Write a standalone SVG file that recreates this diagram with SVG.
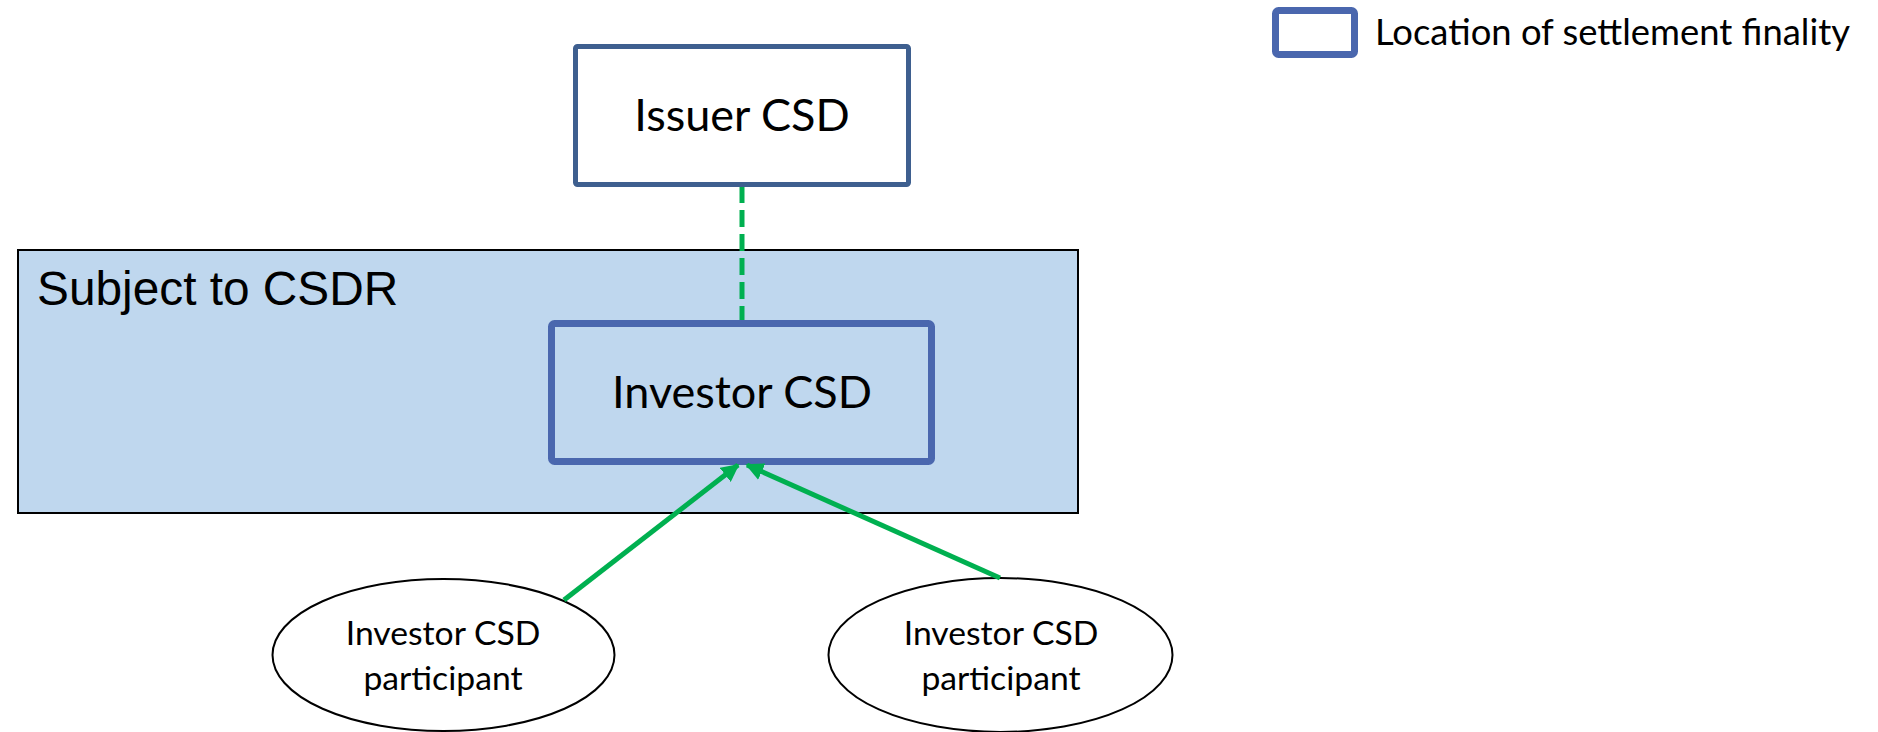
<svg xmlns="http://www.w3.org/2000/svg" width="1878" height="732" viewBox="0 0 1878 732">
  <defs>
    <marker id="arrow" viewBox="0 0 10 10" refX="9" refY="5" markerWidth="3.6" markerHeight="3.6" orient="auto" markerUnits="strokeWidth">
      <path d="M0,0 L10,5 L0,10 Z" fill="#00B050"/>
    </marker>
    <style>
      .label { font-family: Lato, "Open Sans", sans-serif; fill: #000; }
      .big { font-size: 45px; text-anchor: middle; }
      .small { font-size: 33.7px; text-anchor: middle; }
      .flow { stroke: #00B050; stroke-width: 5; fill: none; }
      .oval { fill: #fff; stroke: #000; stroke-width: 2; }
    </style>
  </defs>

  <rect width="1878" height="732" fill="#fff"/>

  <!-- regulated area -->
  <g id="csdr-zone">
    <rect x="18" y="250" width="1060" height="263" fill="#BFD7EE" stroke="#000" stroke-width="2"/>
    <text x="37" y="305" font-family="'Liberation Sans', Arial, sans-serif" font-size="47.8">Subject to CSDR</text>
  </g>

  <g id="issuer-csd">
    <rect x="575.5" y="46.5" width="333" height="138" rx="2" fill="#fff" stroke="#3E5F8F" stroke-width="5"/>
    <text class="label big" x="742" y="131">Issuer CSD</text>
  </g>

  <g id="investor-csd">
    <rect x="551.5" y="323.5" width="380" height="138" rx="3" fill="#BFD7EE" stroke="#4A67AE" stroke-width="7"/>
    <text class="label big" x="742" y="408">Investor CSD</text>
  </g>

  <g id="participant-left">
    <ellipse class="oval" cx="443.5" cy="655" rx="171" ry="76"/>
    <text class="label small" x="443" y="645">Investor CSD</text>
    <text class="label small" x="443" y="690">participant</text>
  </g>

  <g id="participant-right">
    <ellipse class="oval" cx="1000.5" cy="655" rx="172" ry="77"/>
    <text class="label small" x="1001" y="645">Investor CSD</text>
    <text class="label small" x="1001" y="690">participant</text>
  </g>

  <g id="legend">
    <rect x="1275.5" y="10.5" width="79" height="44" rx="3" fill="#fff" stroke="#4A67AE" stroke-width="7"/>
    <text class="label" x="1375" y="45" font-size="36.4">Location of settlement finality</text>
  </g>

  <g id="connectors">
    <line class="flow" x1="742" y1="187" x2="742" y2="320" stroke-width="6" stroke-dasharray="17 7" stroke-dashoffset="1"/>
    <line class="flow" x1="564" y1="600" x2="738" y2="465" marker-end="url(#arrow)"/>
    <line class="flow" x1="1000" y1="578" x2="747" y2="465" marker-end="url(#arrow)"/>
  </g>
</svg>
